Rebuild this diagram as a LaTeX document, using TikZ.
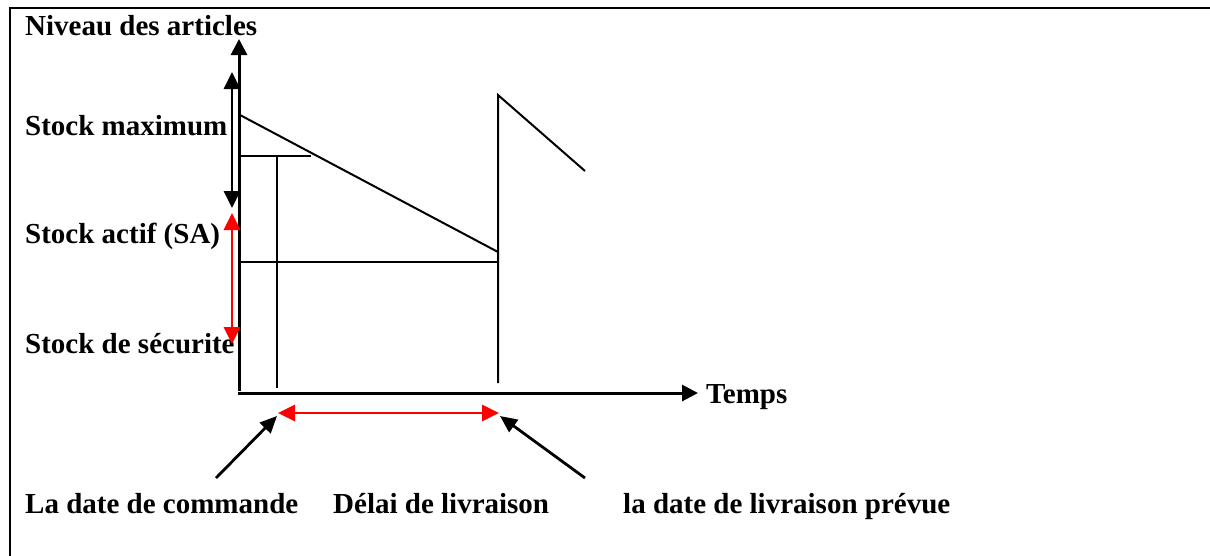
\documentclass[tikz,border=0pt]{standalone}
\usepackage{fontspec}
\setmainfont{Liberation Serif}
\usetikzlibrary{arrows.meta}
\begin{document}
\begin{tikzpicture}[x=1pt,y=-1pt,
  lbl/.style={anchor=base west,inner sep=0pt,font=\fontsize{29}{34}\selectfont\bfseries},
  axis/.style={line width=3pt,-{Triangle[length=16pt,width=16pt]}},
  thin/.style={line width=2pt},
  dbl/.style={line width=2.8pt,{Triangle[length=17pt,width=16pt]}-{Triangle[length=17pt,width=16pt]}},
  pointer/.style={line width=2.8pt,-{Triangle[length=17pt,width=15pt]}}]
\useasboundingbox (0,0) rectangle (1210,555);
\fill[white] (0,0) rectangle (1210,555);
% frame
\draw[line width=2.5pt] (10,560) -- (10,8) -- (1215,8);
% labels
\node[lbl] (niv) at (25,35) {Niveau des articles};
\node[lbl] (smax) at (25,135) {Stock maximum};
\node[lbl] (sact) at (25,243) {Stock actif (SA)};
\node[lbl] (ssec) at (25,353) {Stock de sécurite};
\node[lbl] (temps) at (706,403) {Temps};
\node[lbl] (dcom) at (25,513) {La date de commande};
\node[lbl] (delai) at (333,513) {Délai de livraison};
\node[lbl] (dliv) at (623,513) {la date de livraison prévue};
% coordinates
\coordinate (O) at (238,393);
\coordinate (Yb) at (239,391);
\coordinate (Yt) at (239,39);
\coordinate (Xt) at (698,393);
\coordinate (A) at (240,115);
\coordinate (B) at (498,252);
\coordinate (C) at (498,95);
\coordinate (D) at (585,171);
\coordinate (Vb) at (498,383);
\coordinate (H1a) at (240,156);
\coordinate (H1b) at (311,156);
\coordinate (V1t) at (277,156);
\coordinate (V1b) at (277,388);
\coordinate (H2a) at (240,262);
\coordinate (H2b) at (498,262);
\coordinate (Ma) at (232,72);
\coordinate (Mb) at (232,208);
\coordinate (Ra) at (232,213);
\coordinate (Rb) at (232,344);
\coordinate (Da) at (278,413);
\coordinate (Db) at (499,413);
\coordinate (P1) at (216,478);
\coordinate (P1t) at (277,416);
\coordinate (P2) at (585,478);
\coordinate (P2t) at (500,416);
% axes
\draw[axis] (Yb) -- (Yt);
\draw[axis] (O) -- (Xt);
% curve
\draw[thin] (A) -- (B);
\draw[thin] (Vb) -- (C) -- (D);
\draw[thin] (H1a) -- (H1b);
\draw[thin] (V1t) -- (V1b);
\draw[thin] (H2a) -- (H2b);
% double arrows
\draw[dbl] (Ma) -- (Mb);
\draw[dbl,red] (Ra) -- (Rb);
\draw[dbl,red] (Da) -- (Db);
% pointers
\draw[pointer] (P1) -- (P1t);
\draw[pointer] (P2) -- (P2t);
\end{tikzpicture}
\end{document}
